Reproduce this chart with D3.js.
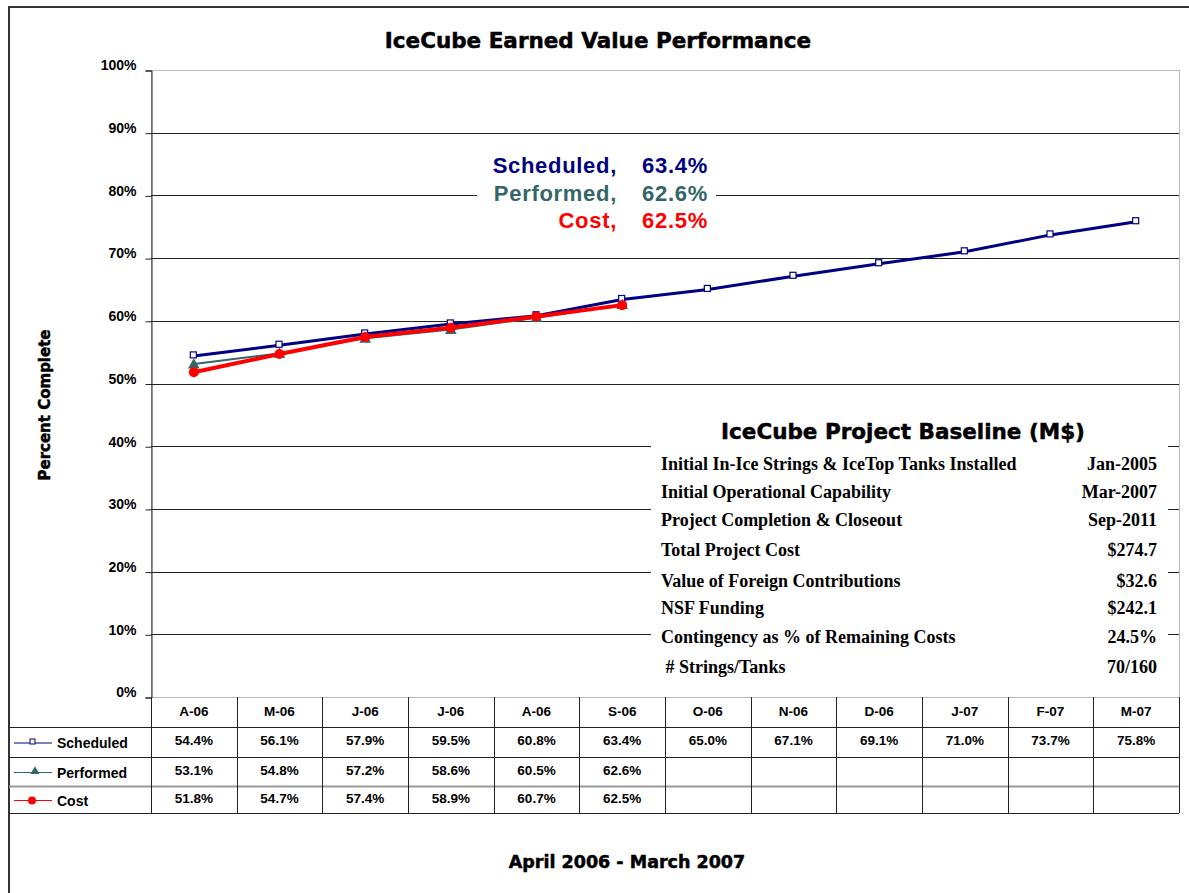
<!DOCTYPE html>
<html>
<head>
<meta charset="utf-8">
<script src="https://cdn.jsdelivr.net/npm/d3@7"></script>
<style>
  body { margin: 0; background: #fff; }
  text { font-family: "Liberation Sans", Arial, sans-serif; font-weight: bold; }
  .serif { font-family: "Liberation Serif", "Times New Roman", serif; }
  .heavy { font-family: "DejaVu Sans", sans-serif; stroke: #000; stroke-width: 0.5px; }
</style>
</head>
<body>
<div id="chart"></div>
<script>
// data
var months = ["A-06", "M-06", "J-06", "J-06", "A-06", "S-06", "O-06", "N-06", "D-06", "J-07", "F-07", "M-07"];
var scheduled = [54.4, 56.1, 57.9, 59.5, 60.8, 63.4, 65.0, 67.1, 69.1, 71.0, 73.7, 75.8];
var performed = [53.1, 54.8, 57.2, 58.6, 60.5, 62.6];
var cost = [51.8, 54.7, 57.4, 58.9, 60.7, 62.5];
var yTicks = [0, 10, 20, 30, 40, 50, 60, 70, 80, 90, 100];
var baselineLabels = ["Initial In-Ice Strings & IceTop Tanks Installed", "Initial Operational Capability",
  "Project Completion & Closeout", "Total Project Cost", "Value of Foreign Contributions",
  "NSF Funding", "Contingency as % of Remaining Costs", " # Strings/Tanks"];
var baselineValues = ["Jan-2005", "Mar-2007", "Sep-2011", "$274.7", "$32.6", "$242.1", "24.5%", "70/160"];

var W = 1189, H = 893;

var colNavy = "#000080", colTeal = "#336666", colRed = "#ff0000";

var svg = d3.select("#chart").append("svg")
    .attr("width", W)
    .attr("height", H);

// outer frame
svg.append("rect")
    .attr("x", 9).attr("y", 7)
    .attr("width", W + 10).attr("height", H + 10)
    .attr("fill", "none").attr("stroke", "#333").attr("stroke-width", 2);

var x = d3.scaleBand()
    .domain(d3.range(months.length))
    .range([151, 1179]);

var y = d3.scaleLinear()
    .domain([0, 100])
    .range([697, 70]);

// plot area border
svg.append("rect")
    .attr("x", 151.5).attr("y", 70.5)
    .attr("width", 1179 - 151).attr("height", 697 - 70)
    .attr("fill", "none").attr("stroke", "#bbb");

// gridlines
svg.append("g").selectAll("line")
  .data(yTicks.filter(function(d) { return d > 0 && d < 100; }))
  .enter().append("line")
    .attr("x1", 151).attr("x2", 1179)
    .attr("y1", function(d) { return Math.round(y(d)) + 0.5; })
    .attr("y2", function(d) { return Math.round(y(d)) + 0.5; })
    .attr("stroke", "#222").attr("stroke-width", 1);

// y axis
var yAxis = svg.append("g")
    .attr("transform", "translate(151.5,0.5)")
    .call(d3.axisLeft(y).tickValues(yTicks).tickSize(6).tickPadding(9)
      .tickFormat(function(d) { return d + "%"; }));
yAxis.select(".domain").attr("stroke", "#222");
yAxis.selectAll(".tick line").attr("stroke", "#222");
yAxis.selectAll(".tick text")
    .attr("font-size", 14).attr("font-family", "Liberation Sans, Arial, sans-serif")
    .attr("font-weight", "bold").attr("fill", "#000").attr("dy", "-0.05em");

svg.append("text")
    .attr("class", "heavy")
    .attr("transform", "translate(50,405) rotate(-90)")
    .attr("text-anchor", "middle")
    .attr("font-size", 15)
    .text("Percent Complete");

// title
svg.append("text")
    .attr("class", "heavy")
    .attr("x", 598).attr("y", 48)
    .attr("text-anchor", "middle")
    .attr("font-size", 21.5)
    .text("IceCube Earned Value Performance");

// annotation block
svg.append("rect")
    .attr("x", 477).attr("y", 150).attr("width", 239).attr("height", 82)
    .attr("fill", "#fff");
var notes = [
  {label: "Scheduled,", value: scheduled[5], color: colNavy, yy: 173},
  {label: "Performed,", value: performed[5], color: colTeal, yy: 201},
  {label: "Cost,", value: cost[5], color: colRed, yy: 228}
];
notes.forEach(function(n) {
  svg.append("text").attr("x", 617).attr("y", n.yy).attr("text-anchor", "end")
    .attr("font-size", 22).attr("letter-spacing", 0.7).attr("fill", n.color).text(n.label);
  svg.append("text").attr("x", 708).attr("y", n.yy).attr("text-anchor", "end")
    .attr("font-size", 22).attr("letter-spacing", 0.7).attr("fill", n.color).text(n.value.toFixed(1) + "%");
});

// baseline box
svg.append("rect")
    .attr("x", 651).attr("y", 412).attr("width", 517).attr("height", 280)
    .attr("fill", "#fff");
svg.append("text")
    .attr("class", "heavy")
    .attr("x", 903).attr("y", 439)
    .attr("text-anchor", "middle")
    .attr("font-size", 21.5)
    .text("IceCube Project Baseline (M$)");
var rowY = [470, 498, 526, 556, 587, 614, 643, 673];
baselineLabels.forEach(function(l, i) {
  svg.append("text").attr("class", "serif")
    .attr("x", 661).attr("y", rowY[i]).attr("font-size", 18)
    .style("white-space", "pre").text(l);
  svg.append("text").attr("class", "serif")
    .attr("x", 1157).attr("y", rowY[i]).attr("font-size", 18)
    .attr("text-anchor", "end").text(baselineValues[i]);
});

// lines
function cx(d, i) { return x(i) + x.bandwidth() / 2; }
var line = d3.line()
    .x(function(d, i) { return cx(d, i); })
    .y(function(d) { return y(d); });

svg.append("path").datum(scheduled)
    .attr("d", line).attr("fill", "none")
    .attr("stroke", colNavy).attr("stroke-width", 3);
svg.append("path").datum(performed)
    .attr("d", line).attr("fill", "none")
    .attr("stroke", colTeal).attr("stroke-width", 2);
svg.append("path").datum(cost)
    .attr("d", line).attr("fill", "none")
    .attr("stroke", colRed).attr("stroke-width", 4);

// markers
svg.append("g").selectAll("rect")
  .data(scheduled).enter().append("rect")
    .attr("x", function(d, i) { return cx(d, i) - 3.5; })
    .attr("y", function(d) { return y(d) - 4; })
    .attr("width", 6).attr("height", 6)
    .attr("fill", "#fff").attr("stroke", colNavy).attr("stroke-width", 1.2);
svg.append("g").selectAll("path")
  .data(performed).enter().append("path")
    .attr("d", d3.symbol().type(d3.symbolTriangle).size(60))
    .attr("fill", colTeal)
    .attr("transform", function(d, i) { return "translate(" + cx(d, i) + "," + (y(d) + 1) + ")"; });
svg.append("g").selectAll("circle")
  .data(cost).enter().append("circle")
    .attr("cx", function(d, i) { return cx(d, i); })
    .attr("cy", function(d) { return y(d); })
    .attr("r", 5)
    .attr("fill", colRed);

// data table
var rowsY = [697, 727, 757, 786, 813];
var table = svg.append("g");
rowsY.slice(1).forEach(function(ry, i) {
  table.append("line")
    .attr("x1", 9).attr("x2", 1179)
    .attr("y1", ry + 0.5).attr("y2", ry + 0.5)
    .attr("stroke", i === 2 ? "#999" : "#222")
    .attr("stroke-width", i === 2 ? 2 : 1);
});
table.selectAll(".vline")
  .data(d3.range(months.length + 1)).enter().append("line")
    .attr("class", "vline")
    .attr("x1", function(i) { return Math.round(i < months.length ? x(i) : 1179) + 0.5; })
    .attr("x2", function(i) { return Math.round(i < months.length ? x(i) : 1179) + 0.5; })
    .attr("y1", 697).attr("y2", 813)
    .attr("stroke", "#222");

table.selectAll(".mlabel")
  .data(months).enter().append("text")
    .attr("x", function(d, i) { return cx(d, i); })
    .attr("y", 716)
    .attr("text-anchor", "middle")
    .attr("font-size", 13.5)
    .text(function(d) { return d; });

var series = [
  {name: "Scheduled", values: scheduled, color: colNavy},
  {name: "Performed", values: performed, color: colTeal},
  {name: "Cost", values: cost, color: colRed}
];
series.forEach(function(s, r) {
  var mid = (rowsY[r + 1] + rowsY[r + 2]) / 2;
  table.selectAll(".v" + r)
    .data(s.values).enter().append("text")
      .attr("x", function(d, i) { return cx(d, i); })
      .attr("y", mid + 3)
      .attr("text-anchor", "middle")
      .attr("font-size", 13.5)
      .text(function(d) { return d.toFixed(1) + "%"; });
  table.append("line")
    .attr("x1", 14).attr("x2", 52)
    .attr("y1", mid + 1).attr("y2", mid + 1)
    .attr("stroke", s.color).attr("stroke-width", 1);
  table.append("text")
    .attr("x", 57).attr("y", mid + 6)
    .attr("font-size", 14)
    .text(s.name);
});
// legend markers
var lg = [0, 1, 2].map(function(r) { return (rowsY[r + 1] + rowsY[r + 2]) / 2 + 1; });
table.append("rect").attr("x", 30).attr("y", lg[0] - 4).attr("width", 5).attr("height", 5)
  .attr("fill", "#fff").attr("stroke", colNavy);
table.append("path").attr("d", d3.symbol().type(d3.symbolTriangle).size(35))
  .attr("transform", "translate(35," + (lg[1] - 1) + ")").attr("fill", colTeal);
table.append("circle").attr("cx", 32).attr("cy", lg[2]).attr("r", 4).attr("fill", colRed);

// footer
svg.append("text")
    .attr("class", "heavy")
    .attr("x", 627).attr("y", 868)
    .attr("text-anchor", "middle")
    .attr("font-size", 17.5)
    .text("April 2006 - March 2007");
</script>
</body>
</html>
